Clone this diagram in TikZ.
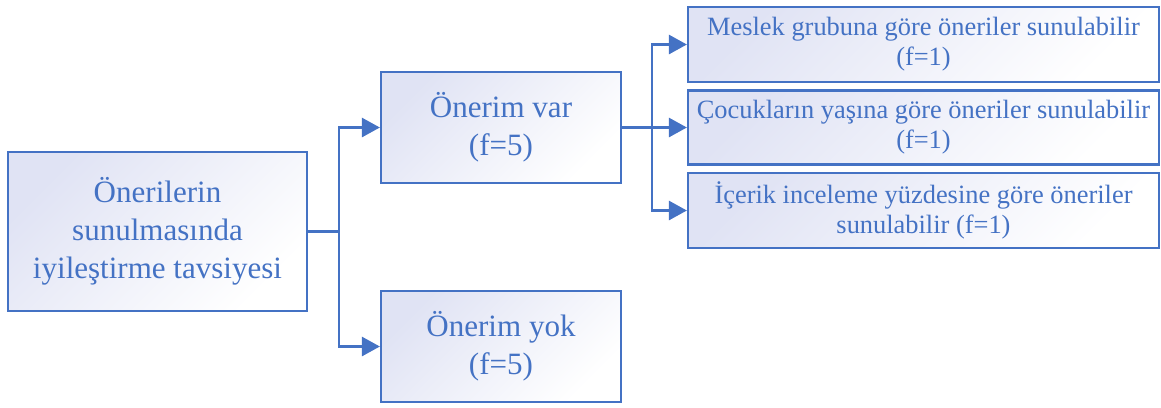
\documentclass[tikz,border=0pt]{standalone}
\usepackage{fontspec}
\setmainfont{Liberation Serif}
\usepackage{xcolor}
\usepackage{tikz}
\usetikzlibrary{arrows.meta}
\usetikzlibrary{calc}
\usetikzlibrary{positioning}
\definecolor{lineblue}{HTML}{4472C4}
\definecolor{boxtint}{HTML}{E0E3F4}
\tikzset{
  box/.style={draw=lineblue, line width=0.9pt, top color=boxtint, bottom color=white,
    shading angle=45, text=lineblue, align=center, inner sep=0pt},
  bigbox/.style={box, font=\fontsize{12.1}{14.8}\selectfont},
  smallbox/.style={box, font=\fontsize{10.3}{11.8}\selectfont},
  conn/.style={draw=lineblue, line width=0.8pt, -{Triangle[length=7pt,width=7.5pt]}}
}
\begin{document}
\begin{tikzpicture}[x=0.39pt, y=-0.39pt]
    \useasboundingbox (0,0) rectangle (1161,407);
    \node[bigbox, minimum width=299*0.39pt, minimum height=159*0.39pt] (A) at (157.5,231.5) {Önerilerin\\sunulmasında\\iyileştirme tavsiyesi};
    \node[bigbox, minimum width=240*0.39pt, minimum height=111*0.39pt] (B1) at (501,127.5) {Önerim var\\(f=5)};
    \node[bigbox, minimum width=240*0.39pt, minimum height=111*0.39pt] (B2) at (501,346.5) {Önerim yok\\(f=5)};
    \node[smallbox, minimum width=471*0.39pt, minimum height=75*0.39pt] (C1) at (923.5,44.5) {Meslek grubuna göre öneriler sunulabilir\\(f=1)};
    \node[smallbox, minimum width=471*0.39pt, minimum height=74*0.39pt] (C2) at (923.5,127.5) {Çocukların yaşına göre öneriler sunulabilir\\(f=1)};
    \node[smallbox, minimum width=471*0.39pt, minimum height=75*0.39pt] (C3) at (923.5,210.5) {İçerik inceleme yüzdesine göre öneriler\\sunulabilir (f=1)};
    \coordinate (J1) at (339,231.5);
    \coordinate (J2) at (652,127.5);
    \draw[lineblue, line width=0.8pt] (A.east) -- (J1);
    \path[conn] (J1) |- (B1.west);
    \path[conn] (J1) |- (B2.west);
    \path[conn] (B1.east) -- (C2.west);
    \path[conn] (J2) |- (C1.west);
    \path[conn] (J2) |- (C3.west);
  \end{tikzpicture}
\end{document}
